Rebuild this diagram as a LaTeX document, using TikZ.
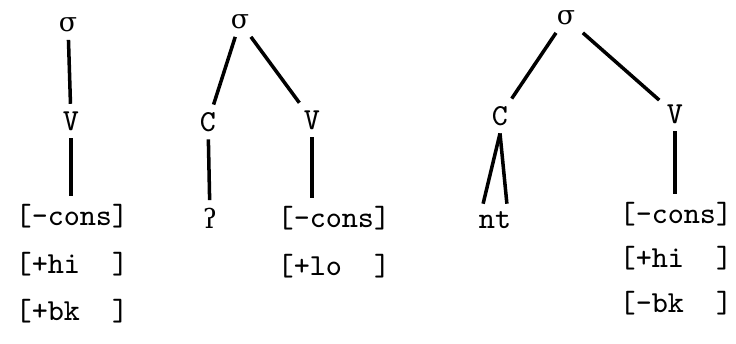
\documentclass[tikz,border=0pt]{standalone}
\usepackage{fontspec}
\newfontfamily\ipafont{DejaVu Serif}
\usetikzlibrary{calc}

\begin{document}
\begin{tikzpicture}[
    t/.style={font=\ttfamily\fontsize{8.7}{10}\selectfont, inner sep=2pt},
    g/.style={font=\ipafont\fontsize{7.6}{9}\selectfont, inner sep=2pt},
    f/.style={t, anchor=west, inner xsep=0pt, inner ysep=2pt},
    e/.style={line width=1pt},
]
\useasboundingbox (0,0) rectangle (7.36,3.44);
% first syllable
\node[g] (s1) at (0.68,3.19) {σ};
\node[t] (v1) at (0.71,2.23) {V};
\node[f] (f1a) at (0.15,1.28) {[-cons]};
\node[f] (f1b) at (0.15,0.80) {[+hi\ \ ]};
\node[f] (f1c) at (0.15,0.33) {[+bk\ \ ]};
\draw[e] (s1) -- (v1);
\draw[e] (v1) -- (v1 |- f1a.north);
% second syllable
\node[g] (s2) at (2.40,3.22) {σ};
\node[t] (c2) at (2.08,2.22) {C};
\node[t] (v2) at (3.12,2.24) {V};
\node[g] (g2) at (2.10,1.26) {ʔ};
\node[f] (f2a) at (2.77,1.26) {[-cons]};
\node[f] (f2b) at (2.77,0.78) {[+lo\ \ ]};
\draw[e] (s2) -- (c2);
\draw[e] (s2) -- (v2);
\draw[e] (c2) -- (g2);
\draw[e] (v2) -- (v2 |- f2a.north);
% third syllable
\node[g] (s3) at (5.66,3.26) {σ};
\node[t] (c3) at (5.00,2.28) {C};
\node[t] (v3) at (6.75,2.30) {V};
\node[t] (nt) at (4.95,1.24) {nt};
\node[f] (f3a) at (6.19,1.30) {[-cons]};
\node[f] (f3b) at (6.19,0.86) {[+hi\ \ ]};
\node[f] (f3c) at (6.19,0.41) {[-bk\ \ ]};
\draw[e] (s3) -- (c3);
\draw[e] (s3) -- (v3);
\draw[e] (c3.south) -- ($(nt.north west)!0.5!(nt.north)$);
\draw[e] (c3.south) -- ($(nt.north)!0.5!(nt.north east)$);
\draw[e] (v3) -- (v3 |- f3a.north);
\end{tikzpicture}
\end{document}
